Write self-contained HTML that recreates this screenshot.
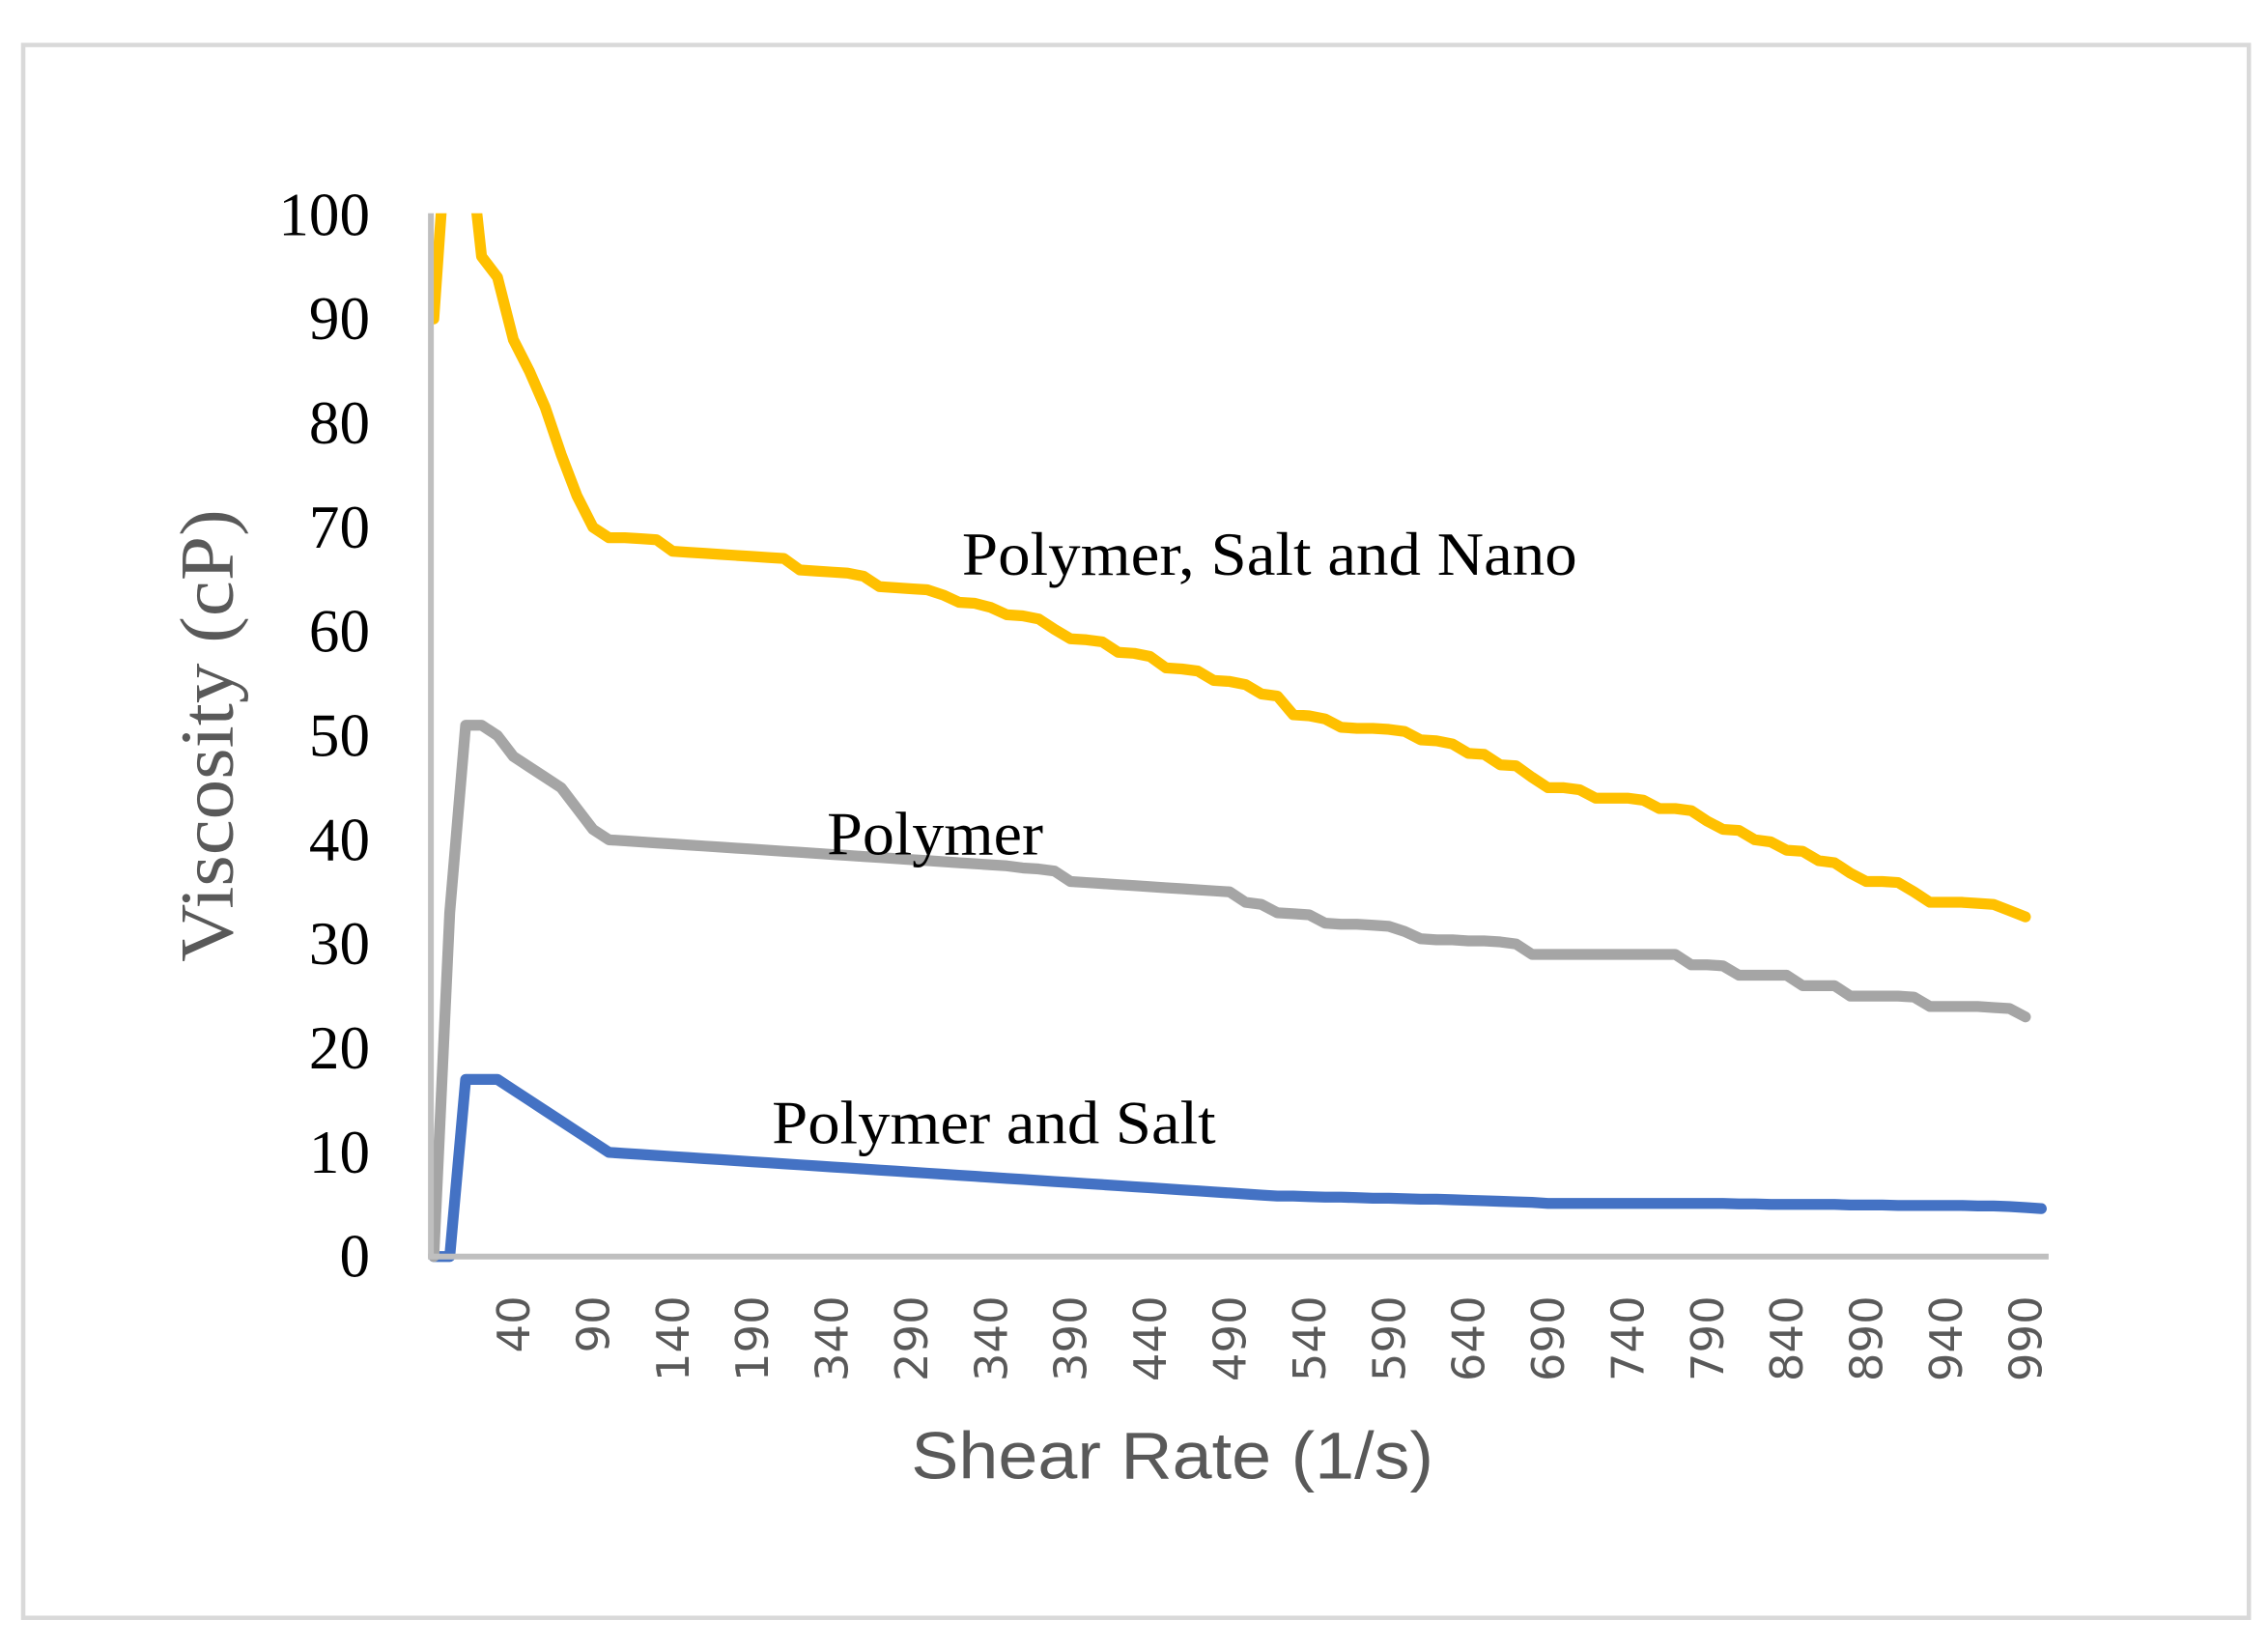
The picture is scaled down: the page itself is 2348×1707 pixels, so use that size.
<!DOCTYPE html>
<html><head><meta charset="utf-8"><style>
html,body{margin:0;padding:0;background:#fff;}
svg{display:block;}
</style></head><body>
<svg id="chart" width="2348" height="1707" viewBox="0 0 1563.2 1136.5" preserveAspectRatio="none" xmlns="http://www.w3.org/2000/svg">
<rect x="16" y="31" width="1534" height="1084" fill="#fff" stroke="#d9d9d9" stroke-width="3"/>
<defs><clipPath id="plotclip"><rect x="290" y="147" width="1130" height="725"/></clipPath></defs>
<g id="yticks"></g>
<g id="xticks"></g>
<g id="series" clip-path="url(#plotclip)"></g>
<line x1="297" y1="147" x2="297" y2="867" stroke="#bfbfbf" stroke-width="4"/>
<line x1="295" y1="866" x2="1412" y2="866" stroke="#bfbfbf" stroke-width="4"/>
<text transform="translate(160,507) rotate(-90)" text-anchor="middle" font-family="Liberation Serif, serif" font-size="52" fill="#595959" textLength="312" lengthAdjust="spacingAndGlyphs">Viscosity (cP)</text>
<text x="808" y="1019" text-anchor="middle" font-family="Liberation Sans, sans-serif" font-size="46" fill="#595959" textLength="360" lengthAdjust="spacingAndGlyphs">Shear Rate (1/s)</text>
<text x="663" y="396" font-family="Liberation Serif, serif" font-size="42" fill="#000" textLength="424" lengthAdjust="spacingAndGlyphs">Polymer, Salt and Nano</text>
<text x="570" y="589" font-family="Liberation Serif, serif" font-size="42" fill="#000" textLength="149" lengthAdjust="spacingAndGlyphs">Polymer</text>
<text x="532" y="788" font-family="Liberation Serif, serif" font-size="42" fill="#000" textLength="306" lengthAdjust="spacingAndGlyphs">Polymer and Salt</text>
</svg>
<script>
const yTickValues = [0,10,20,30,40,50,60,70,80,90,100];
const xTickIndices = [5,10,15,20,25,30,35,40,45,50,55,60,65,70,75,80,85,90,95,100];
const xTickLabels = ["40","90","140","190","340","290","340","390","440","490","540","590","640","690","740","790","840","890","940","990"];
const nanoValues = [90,112,110,96,94,88,85,81.5,77,73,70,69,69,68.9,68.8,67.7,67.6,67.5,67.4,67.3,67.2,67.1,67,65.9,65.8,65.7,65.6,65.3,64.3,64.2,64.1,64,63.5,62.8,62.7,62.3,61.6,61.5,61.2,60.2,59.3,59.2,59,58,57.9,57.6,56.5,56.4,56.2,55.3,55.2,54.9,54,53.8,52,51.9,51.6,50.8,50.7,50.7,50.6,50.4,49.6,49.5,49.2,48.3,48.2,47.2,47.1,46,45,45,44.8,44,44,44,43.8,43,43,42.8,41.8,41,40.9,40,39.8,39,38.9,38,37.8,36.8,36,36,35.9,35,34,34,34,33.9,33.8,33.2,32.6];
const polymerValues = [0,33,51,51,50,48,47,46,45,43,41,40,39.9,39.8,39.7,39.6,39.5,39.4,39.3,39.2,39.1,39,38.9,38.8,38.7,38.6,38.5,38.4,38.3,38.2,38.1,38,37.9,37.8,37.7,37.6,37.5,37.3,37.2,37,36,35.9,35.8,35.7,35.6,35.5,35.4,35.3,35.2,35.1,35,34,33.8,33,32.9,32.8,32,31.9,31.9,31.8,31.7,31.2,30.5,30.4,30.4,30.3,30.3,30.2,30,29,29,29,29,29,29,29,29,29,29,28,28,27.9,27,27,27,27,26,26,26,25,25,25,25,24.9,24,24,24,24,23.9,23.8,23];
const saltValues = [0,0,17,17,17,16,15,14,13,12,11,10,9.9,9.8,9.7,9.6,9.5,9.4,9.3,9.2,9.1,9.0,8.9,8.8,8.7,8.6,8.5,8.4,8.3,8.2,8.1,8.0,7.9,7.8,7.7,7.6,7.5,7.4,7.3,7.2,7.1,7.0,6.9,6.8,6.7,6.6,6.5,6.4,6.3,6.2,6.1,6.0,5.9,5.8,5.8,5.75,5.7,5.7,5.65,5.6,5.6,5.55,5.5,5.5,5.45,5.4,5.35,5.3,5.25,5.2,5.1,5.1,5.1,5.1,5.1,5.1,5.1,5.1,5.1,5.1,5.1,5.1,5.05,5.05,5.0,5.0,5.0,5.0,5.0,4.95,4.95,4.95,4.9,4.9,4.9,4.9,4.9,4.85,4.85,4.8,4.7,4.6];

const NS = "http://www.w3.org/2000/svg";
function xScale(i){ return 299 + 10.97 * i; }
function yScale(v){ return 866 - 7.18 * v; }

const yg = document.getElementById('yticks');
yTickValues.forEach(v => {
  const t = document.createElementNS(NS,'text');
  t.setAttribute('x', 255); t.setAttribute('y', yScale(v) + 14);
  t.setAttribute('text-anchor','end');
  t.setAttribute('font-family','Liberation Serif, serif');
  t.setAttribute('font-size','42'); t.setAttribute('fill','#000');
  t.setAttribute('textLength', String(v).length * 21);
  t.setAttribute('lengthAdjust','spacingAndGlyphs');
  t.textContent = v;
  
  
  yg.appendChild(t);
});
const xg = document.getElementById('xticks');
xTickIndices.forEach((idx, k) => {
  const x = xScale(idx) + 11;
  const t = document.createElementNS(NS,'text');
  t.setAttribute('transform', `translate(${x},893) rotate(-90)`);
  t.setAttribute('text-anchor','end');
  t.setAttribute('font-family','DejaVu Sans, sans-serif');
  t.setAttribute('font-size','31'); t.setAttribute('fill','#595959');
  t.textContent = xTickLabels[k];
  
  
  xg.appendChild(t);
});
const sg = document.getElementById('series');
function drawLine(vals, color, name){
  const p = document.createElementNS(NS,'polyline');
  p.setAttribute('points', vals.map((v,i)=>xScale(i)+','+yScale(v)).join(' '));
  p.setAttribute('fill','none'); p.setAttribute('stroke',color);
  p.setAttribute('stroke-width','7.5'); p.setAttribute('stroke-linejoin','round');
  p.setAttribute('stroke-linecap','round');
  
  
  sg.appendChild(p);
}
drawLine(saltValues, '#4472c4', 'line-polymer-and-salt');
drawLine(polymerValues, '#a5a5a5', 'line-polymer');
drawLine(nanoValues, '#ffc000', 'line-polymer-salt-nano');
</script>
</body></html>
